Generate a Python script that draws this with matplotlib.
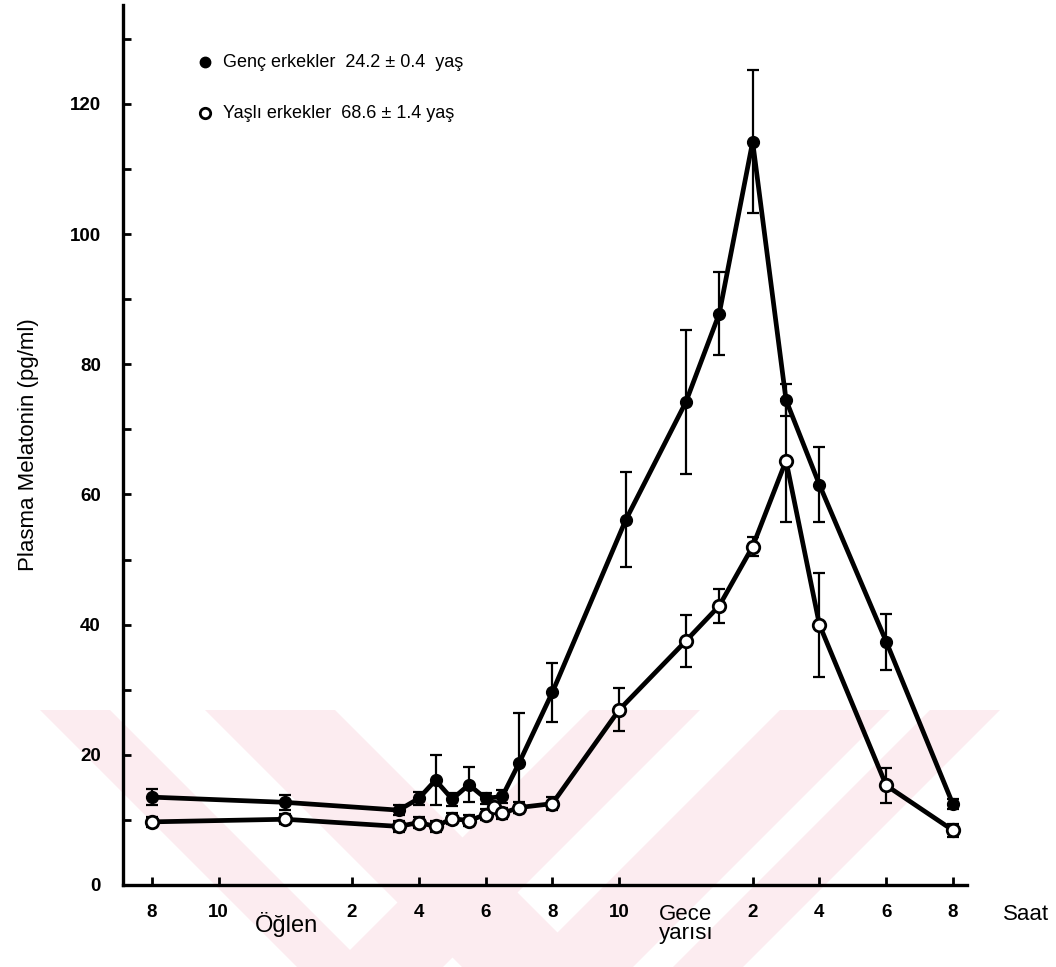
import numpy as np
import matplotlib.pyplot as plt
import matplotlib.transforms as mtransforms
from matplotlib.patches import Polygon, Rectangle

plt.rcParams['font.family'] = ['Liberation Sans', 'DejaVu Sans']

# saat (8 = sabah 8, 24 = gece yarisi, 32 = ertesi sabah 8)
genc_saat = [8, 12, 15.4, 16, 16.5, 17, 17.5, 18, 18.5, 19, 20, 22.2, 24, 25, 26, 27, 28, 30, 32]
genc_mel = [13.5, 12.7, 11.5, 13.3, 16.1, 13.2, 15.4, 13.3, 13.6, 18.7, 29.6, 56.1, 74.2, 87.8, 114.2, 74.5, 61.5, 37.4, 12.4]
genc_hata = [1.2, 1.2, 0.8, 1.0, 3.8, 1.0, 2.7, 0.8, 1.0, 7.7, 4.5, 7.3, 11.0, 6.4, 11.0, 2.5, 5.8, 4.3, 0.8]

yasli_saat = [8, 12, 15.4, 16, 16.5, 17, 17.5, 18, 18.25, 18.5, 19, 20, 22, 24, 25, 26, 27, 28, 30, 32]
yasli_mel = [9.7, 10.1, 9.0, 9.6, 9.0, 10.2, 9.9, 10.8, 12.0, 11.0, 11.9, 12.5, 26.9, 37.5, 42.9, 52.0, 65.2, 40.0, 15.3, 8.4]
yasli_hata = [0.8, 0.8, 0.8, 0.8, 0.8, 0.8, 0.8, 0.8, 0.8, 0.8, 0.8, 1.0, 3.3, 4.0, 2.6, 1.5, 9.5, 8.0, 2.7, 1.0]

tick_saat = [8, 10, 14, 16, 18, 20, 22, 26, 28, 30, 32]
tick_etiket = ['8', '10', '2', '4', '6', '8', '10', '2', '4', '6', '8']

W, H = 1056, 967
fig = plt.figure(figsize=(W / 100, H / 100), dpi=100)

# soluk pembe filigran (taranmis sayfadaki)
pembe = '#fcecf0'
bant = Rectangle((40 / W, 0), 960 / W, (H - 710) / H, transform=fig.transFigure,
                 facecolor='none', edgecolor='none')
fig.patches.append(bant)
h_bant = H - 710
for x0, g in [(40, 70), (205, 130)]:
    p = Polygon([(x0 / W, 1 - 710 / H), ((x0 + g) / W, 1 - 710 / H),
                 ((x0 + g + h_bant) / W, 0), ((x0 + h_bant) / W, 0)],
                closed=True, transform=fig.transFigure, facecolor=pembe,
                edgecolor='none', zorder=-5)
    p.set_clip_path(bant)
    fig.patches.append(p)
for x0, g in [(590, 110), (780, 110), (930, 70)]:
    p = Polygon([(x0 / W, 1 - 710 / H), ((x0 + g) / W, 1 - 710 / H),
                 ((x0 + g - h_bant) / W, 0), ((x0 - h_bant) / W, 0)],
                closed=True, transform=fig.transFigure, facecolor=pembe,
                edgecolor='none', zorder=-5)
    p.set_clip_path(bant)
    fig.patches.append(p)

ax = fig.add_axes([0.1165, 0.0848, 0.7992, 0.91])
ax.set_facecolor('none')

ax.errorbar(genc_saat, genc_mel, yerr=genc_hata, fmt='none', ecolor='black',
            elinewidth=1.6, capsize=4, capthick=1.6, zorder=2)
ax.errorbar(yasli_saat, yasli_mel, yerr=yasli_hata, fmt='none', ecolor='black',
            elinewidth=1.6, capsize=4, capthick=1.6, zorder=2)
ax.plot(genc_saat, genc_mel, '-o', color='black', lw=3.4, ms=8.5,
        mfc='black', mec='black', zorder=3)
ax.plot(yasli_saat, yasli_mel, '-o', color='black', lw=3.4, ms=9,
        mfc='white', mec='black', mew=2, zorder=4)

ax.set_xlim(7.14, 32.42)
ax.set_ylim(0, 135.2)

for s in ['top', 'right']:
    ax.spines[s].set_visible(False)
for s in ['left', 'bottom']:
    ax.spines[s].set_linewidth(2.4)

ax.set_yticks(np.arange(0, 121, 20))
ax.set_yticks(np.arange(10, 131, 20), minor=True)
ax.set_xticks(tick_saat)
ax.set_xticklabels(tick_etiket)
ax.tick_params(axis='both', which='both', direction='in', width=2, labelsize=13.5)
ax.tick_params(axis='y', which='major', length=6, pad=16)
ax.tick_params(axis='y', which='minor', length=6)
ax.tick_params(axis='x', length=6, pad=14)
for lab in ax.get_xticklabels() + ax.get_yticklabels():
    lab.set_fontweight('bold')

trans = mtransforms.blended_transform_factory(ax.transData, ax.transAxes)
ax.text(12.05, -0.031, 'Öğlen', transform=trans, ha='center', va='top', fontsize=17)
ax.text(24, -0.022, 'Gece\nyarısı', transform=trans, ha='center', va='top',
        fontsize=16, linespacing=0.85)
ax.text(1.07, -0.022, 'Saat', transform=ax.transAxes, ha='center', va='top',
        fontsize=16, clip_on=False)

ax.set_ylabel('Plasma Melatonin (pg/ml)', fontsize=16, labelpad=22)

# gosterge
ax.plot([0.097], [0.935], 'o', color='black', ms=7.5, transform=ax.transAxes, clip_on=False)
ax.plot([0.097], [0.877], 'o', mfc='white', mec='black', mew=2, ms=7.5,
        transform=ax.transAxes, clip_on=False)
ax.text(0.118, 0.935, 'Genç erkekler  24.2 ± 0.4  yaş', transform=ax.transAxes,
        va='center', fontsize=13)
ax.text(0.118, 0.877, 'Yaşlı erkekler  68.6 ± 1.4 yaş', transform=ax.transAxes,
        va='center', fontsize=13)

fig.savefig('out.png', dpi=100)
